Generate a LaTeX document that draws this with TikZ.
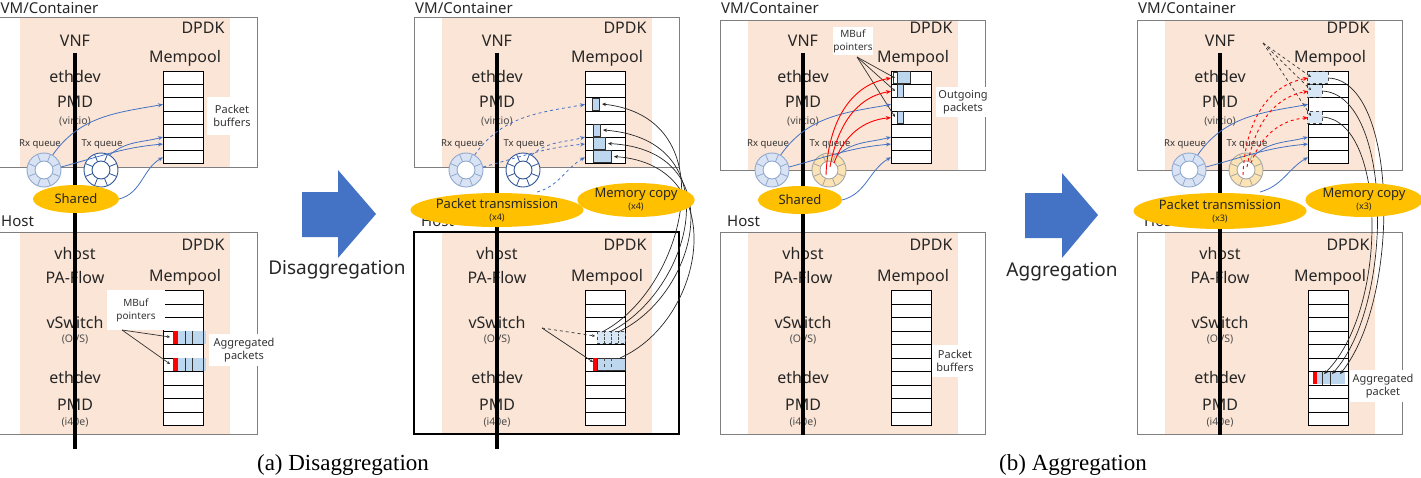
\documentclass[tikz,border=0pt]{standalone}
\usepackage{fontspec}
\newfontfamily\lblfont{Noto Sans}
\newfontfamily\capfont{Liberation Serif}
\usetikzlibrary{shapes.geometric,arrows.meta}

\definecolor{pinkbg}{HTML}{FBE5D6}
\definecolor{boxgray}{HTML}{7F7F7F}
\definecolor{flowblue}{HTML}{4472C4}
\definecolor{pktblue}{HTML}{BDD7EE}
\definecolor{pktred}{HTML}{FF0000}
\definecolor{ellgold}{HTML}{FFC000}
\definecolor{ringblue}{HTML}{DAE3F3}
\definecolor{rxedge}{HTML}{8EA9CF}
\definecolor{txedge}{HTML}{2F5597}
\definecolor{txfill}{HTML}{FCE3B4}
\definecolor{txgray}{HTML}{A6A6A6}

\begin{document}
\begin{tikzpicture}[x=1pt,y=-1pt,
  lbl/.style={font=\lblfont\fontsize{16}{18}\selectfont, text=black!85, inner sep=0pt},
  hdr/.style={font=\lblfont\fontsize{15}{17}\selectfont, text=black!85, inner sep=0pt, anchor=west},
  sml/.style={font=\lblfont\fontsize{10.5}{12}\selectfont, text=black!70, inner sep=0pt},
  qlbl/.style={font=\lblfont\fontsize{9.5}{11}\selectfont, text=black!80, inner sep=0pt},
  note/.style={fill=white, font=\lblfont\fontsize{11}{13}\selectfont, text=black!80, align=center, inner sep=0pt},
  cell/.style={draw=black, line width=0.9pt, fill=white, minimum width=40pt, inner sep=0pt, anchor=north west},
  vmcell/.style={cell, minimum height=13.2pt},
  hcell/.style={cell, minimum height=13.5pt},
  frame/.style={draw=boxgray, line width=1pt},
  stack/.style={line width=4pt, black},
  ring/.style={circle, minimum size=34pt, inner sep=0pt, line width=0.9pt},
  ell/.style={ellipse, fill=ellgold, inner sep=0pt, align=center, font=\lblfont\fontsize{13}{15}\selectfont, text=black!85},
  flow/.style={draw=flowblue, line width=0.8pt, -{Stealth[length=5pt,width=4pt]}},
  redflow/.style={draw=pktred, line width=0.9pt, -{Stealth[length=5pt,width=4pt]}},
  ptr/.style={draw=black!80, line width=0.7pt, -{Stealth[length=3pt,width=3pt]}},
  cpy/.style={draw=black!85, line width=0.7pt, -{Stealth[length=4pt,width=3.5pt]}},
  pkt/.style={fill=pktblue, draw=black!80, line width=0.6pt},
  pktd/.style={fill=pktblue!60, draw=black!70, line width=0.6pt, dashed},
  bigarrow/.style={fill=flowblue},
  captxt/.style={font=\capfont\fontsize{23}{26}\selectfont, inner sep=0pt}
]
\useasboundingbox (0,0) rectangle (1421,477);

% common part of the four panels
\foreach \pn/\px/\vt/\vb/\lb/\tf/\te/\hx/\vx in {a/-8/17/167/449/white/txedge/9/8.5, b/414/17/167/449/white/txedge/7/1, c/720/20/170/435/txfill/txgray/7/1, d/1137/20/170/435/txfill/txgray/7/1}{
 \begin{scope}[xshift=\px pt]
  \fill[pinkbg] (28,\vt) rectangle (238,\vb);
  \fill[pinkbg] (28,232) rectangle (238,434);
  \draw[frame] (0,\vt) rectangle (265,\vb);
  \draw[frame] (0,232) rectangle (265,434);
  \node[hdr] (vm\pn) at (\vx,8) {VM/Container};
  \node[hdr] (host\pn) at (\hx,221) {Host};
  \node[lbl] (dpdk\pn) at (211,28) {DPDK};
  \node[lbl] (vnf\pn) at (83,41) {VNF};
  \node[lbl] (eth\pn) at (83,76) {ethdev};
  \node[lbl] (pmd\pn) at (83,102) {PMD};
  \node[sml] (virtio\pn) at (83,121) {(virtio)};
  \node[lbl] (mem\pn) at (193,58) {Mempool};
  \node[lbl] (hdpdk\pn) at (211,245) {DPDK};
  \node[lbl] (vhost\pn) at (83,253) {vhost};
  \node[lbl] (paf\pn) at (83,277) {PA-Flow};
  \node[lbl] (hmem\pn) at (193,277) {Mempool};
  \node[lbl] (vsw\pn) at (83,322) {vSwitch};
  \node[sml] (ovs\pn) at (83,340) {(OVS)};
  \node[lbl] (heth\pn) at (83,377) {ethdev};
  \node[lbl] (hpmd\pn) at (83,405) {PMD};
  \node[sml] (i40e\pn) at (83,422) {(i40e)};
  \foreach \r in {1,...,7}
    \node[vmcell] (v\pn\r) at (171,{71+13.2*(\r-1)}) {};
  \foreach \r in {1,...,10}
    \node[hcell] (h\pn\r) at (171,{290+13.5*(\r-1)}) {};
  \draw[stack] (83,53) -- (83,\lb);
  \node[qlbl] (rxl\pn) at (48,144) {Rx queue};
  \node[qlbl] (txl\pn) at (110,144) {Tx queue};
  \node[ring, draw=rxedge, fill=ringblue] (rx\pn) at (52,170) {};
  \node[ring, draw=\te, fill=\tf] (tx\pn) at (109,170) {};
  \filldraw[fill=white, draw=rxedge, line width=0.9pt] (rx\pn) circle (9pt);
  \filldraw[fill=white, draw=\te, line width=0.9pt] (tx\pn) circle (9pt);
  \foreach \a in {22.5,67.5,...,337.5}{
    \draw[rxedge, line width=0.8pt] (rx\pn) ++(\a:9pt) -- ++(\a:8pt);
    \draw[\te, line width=0.8pt] (tx\pn) ++(\a:9pt) -- ++(\a:8pt);
  }
 \end{scope}
}

% (a) left panel
\begin{scope}[xshift=-8pt]
  \fill[pktblue] (186,331) rectangle (214,343.5);
  \fill[pktblue] (186,358) rectangle (214,370.5);
  \fill[pktred] (181,331) rectangle (186,343.5);
  \fill[pktred] (181,358) rectangle (186,370.5);
  \draw[black!80, line width=0.7pt] (193,330.5) -- (193,344) (200,330.5) -- (200,344) (211,330.5) -- (211,344)
    (193,357.5) -- (193,371) (200,357.5) -- (200,371) (211,357.5) -- (211,371);
  \node[note, font=\lblfont\fontsize{10}{13}\selectfont, minimum width=58pt, minimum height=40pt] (mbufa) at (144,310) {MBuf\\pointers};
  \node[note, minimum width=70pt, minimum height=32pt] (aggla) at (252,350) {Aggregated\\packets};
  \node[note, minimum width=50pt, minimum height=38pt] (bufla) at (240,116) {Packet\\buffers};
  \coordinate (mpa) at (130,330);
  \coordinate (pa1) at (178,337);
  \coordinate (pa2) at (178,364);
  \draw[ptr] (mpa) -- (pa1);
  \draw[ptr] (mpa) -- (pa2);
  \node[ell, minimum width=86pt, minimum height=28pt] (shda) at (84,199) {Shared};
  \draw[flow] (rxa.60) to[out=55,in=190] (va3.west);
  \draw[flow] (txa.60) to[out=40,in=195] (va6.north west);
  \draw[flow] (rxa.10) to[out=15,in=185] (va6.west);
  \draw[flow] (shda.east) to[out=15,in=210] (va7.west);
\end{scope}

% (a) right panel
\begin{scope}[xshift=414pt]
  \draw[line width=1.3pt] (0,232) rectangle (265,434);
  \draw[pkt] (178,98) rectangle (185,110);
  \draw[pkt] (179,124.5) rectangle (186,136.5);
  \draw[pkt] (179,137.5) rectangle (191,149.5);
  \draw[pkt] (179,150.5) rectangle (197,162.5);
  \draw[pktd] (183,331) rectangle (211,343.5);
  \draw[black!70, densely dotted] (190,331) -- (190,343.5) (197,331) -- (197,343.5) (204,331) -- (204,343.5);
  \draw[pkt] (183,358) rectangle (211,370.5);
  \fill[pktred] (179,358) rectangle (183,370.5);
  \draw[black!70, dashed] (190,358) -- (190,370.5) (197,358) -- (197,370.5);
  \coordinate (mpb) at (128,328);
  \coordinate (pb1) at (181,336);
  \coordinate (pb2) at (179,362);
  \draw[ptr, dashed] (mpb) -- (pb1);
  \draw[ptr] (mpb) -- (pb2);
  \coordinate (sb1) at (188,332);
  \coordinate (sb2) at (196,332);
  \coordinate (sb3) at (204,332);
  \coordinate (sb4) at (206,358);
  \coordinate (tb1) at (188,104);
  \coordinate (tb2) at (189,130);
  \coordinate (tb3) at (194,143.5);
  \coordinate (tb4) at (200,156.5);
  \draw[cpy] (sb1) .. controls (270,290) and (315,118) .. (tb1);
  \draw[cpy] (sb2) .. controls (278,290) and (318,140) .. (tb2);
  \draw[cpy] (sb3) .. controls (284,295) and (320,150) .. (tb3);
  \draw[cpy] (sb4) .. controls (292,320) and (318,165) .. (tb4);
  \coordinate (fob) at (123,192);
  \draw[flow, dashed] (rxb.60) to[out=55,in=190] (vb3.west);
  \draw[flow, dashed] (txb.60) to[out=40,in=195] (vb6.north west);
  \draw[flow, dashed] (rxb.10) to[out=15,in=185] (vb6.west);
  \draw[flow, dashed] (fob) to[out=15,in=210] (vb7.west);
  \node[ell, minimum width=170pt, minimum height=34pt] (ptb) at (83,210) {Packet transmission\\[-3pt]{\fontsize{9}{10}\selectfont (x4)}};
  \node[ell, minimum width=104pt, minimum height=34pt] (mcb) at (222,200) {Memory copy\\[-3pt]{\fontsize{9}{10}\selectfont (x4)}};
\end{scope}

% (b) left panel
\begin{scope}[xshift=720pt]
  \draw[black!80, line width=0.6pt] (173,72) rectangle (177,83);
  \draw[pkt] (177,71.5) rectangle (190,83.7);
  \draw[pkt] (177,84.7) rectangle (183,96.9);
  \draw[pkt] (177,111.1) rectangle (183,123.3);
  \node[note, font=\lblfont\fontsize{10}{13}\selectfont, minimum width=40pt, minimum height=28pt] (mbufc) at (133,41) {MBuf\\pointers};
  \node[note, minimum width=55pt, minimum height=30pt] (outc) at (243,102) {Outgoing\\packets};
  \node[note, minimum width=46pt, minimum height=32pt] (bufc) at (235,361) {Packet\\buffers};
  \coordinate (mpc) at (137,57);
  \coordinate (pc1) at (175,78);
  \coordinate (pc2) at (175,91);
  \coordinate (pc3) at (175,117);
  \draw[ptr] (mpc) -- (pc1);
  \draw[ptr] (mpc) -- (pc2);
  \draw[ptr] (mpc) -- (pc3);
  \node[ell, minimum width=84pt, minimum height=28pt] (shdc) at (80,200) {Shared};
  \draw[flow] (rxc.60) to[out=55,in=190] (vc3.west);
  \draw[flow] (txc.60) to[out=40,in=195] (vc6.north west);
  \draw[flow] (rxc.10) to[out=15,in=185] (vc6.west);
  \draw[flow] (shdc.east) to[out=15,in=210] (vc7.west);
  \coordinate (rc1) at (106,175);
  \coordinate (rc2) at (110,167);
  \coordinate (rc3) at (114,163);
  \draw[redflow] (rc1) to[out=88,in=190] (vc1.west);
  \draw[redflow] (rc2) to[out=80,in=190] (vc2.west);
  \draw[redflow] (rc3) to[out=70,in=185] (vc4.west);
\end{scope}

% (b) right panel
\begin{scope}[xshift=1137pt]
  \draw[pktd] (170,71.5) rectangle (191,83.7);
  \draw[pktd] (170,84.7) rectangle (185,96.9);
  \draw[pktd] (170,111.1) rectangle (185,123.3);
  \fill[pktblue] (180,371.5) rectangle (208,384);
  \fill[pktred] (176,371.5) rectangle (180,384);
  \draw[black!80, line width=0.7pt] (185,371) -- (185,384.5) (193,371) -- (193,384.5);
  \coordinate (mpd) at (126,43);
  \coordinate (pd1) at (174,77);
  \coordinate (pd2) at (174,90);
  \coordinate (pd3) at (174,116);
  \draw[ptr, dashed] (mpd) -- (pd1);
  \draw[ptr, dashed] (mpd) -- (pd2);
  \draw[ptr, dashed] (mpd) -- (pd3);
  \coordinate (sd1) at (191,78);
  \coordinate (sd2) at (185,91);
  \coordinate (sd3) at (185,117);
  \coordinate (td1) at (203,374);
  \coordinate (td2) at (195,374);
  \coordinate (td3) at (187,374);
  \draw[cpy] (sd1) .. controls (262,80) and (264,300) .. (td1);
  \draw[cpy] (sd2) .. controls (256,94) and (258,305) .. (td2);
  \draw[cpy] (sd3) .. controls (250,120) and (252,310) .. (td3);
  \node[note, minimum width=67pt, minimum height=32pt] (aggd) at (246,386) {Aggregated\\packet};
  \coordinate (fod) at (123,192);
  \draw[flow] (rxd.60) to[out=55,in=190] (vd3.west);
  \draw[flow] (txd.60) to[out=40,in=195] (vd6.north west);
  \draw[flow] (rxd.10) to[out=15,in=185] (vd6.west);
  \draw[flow] (fod) to[out=15,in=210] (vd7.west);
  \coordinate (rd1) at (106,175);
  \coordinate (rd2) at (110,167);
  \coordinate (rd3) at (114,163);
  \draw[redflow, dashed] (rd1) to[out=88,in=190] (vd1.west);
  \draw[redflow, dashed] (rd2) to[out=80,in=190] (vd2.west);
  \draw[redflow, dashed] (rd3) to[out=70,in=185] (vd4.west);
  \node[ell, minimum width=170pt, minimum height=36pt] (ptd) at (83,211) {Packet transmission\\[-3pt]{\fontsize{9}{10}\selectfont (x3)}};
  \node[ell, minimum width=112pt, minimum height=34pt] (mcd) at (227,200) {Memory copy\\[-3pt]{\fontsize{9}{10}\selectfont (x3)}};
\end{scope}

% big arrows between the panels
\fill[bigarrow] (302,192) -- (338,192) -- (338,170) -- (376,214) -- (338,258) -- (338,237) -- (302,237) -- cycle;
\node[font=\lblfont\fontsize{19}{21}\selectfont, text=black!85, inner sep=0pt] (disl) at (337,270) {Disaggregation};
\fill[bigarrow] (1025,193) -- (1062,193) -- (1062,173) -- (1098,215) -- (1062,258) -- (1062,238) -- (1025,238) -- cycle;
\node[font=\lblfont\fontsize{19}{21}\selectfont, text=black!85, inner sep=0pt] (aggl) at (1062,272) {Aggregation};

\node[captxt] (capa) at (343,465) {(a) Disaggregation};
\node[captxt] (capb) at (1073,465) {(b) Aggregation};
\end{tikzpicture}
\end{document}
